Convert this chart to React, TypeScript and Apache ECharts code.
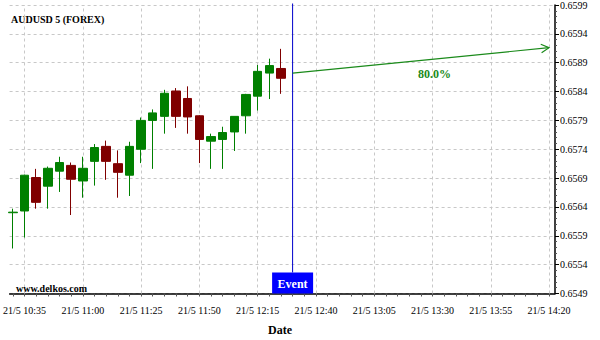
import React, { useEffect, useRef } from 'react';
import * as echarts from 'echarts';

// ---- data ----
const times = ['10:30','10:35','10:40','10:45','10:50','10:55','11:00','11:05','11:10','11:15','11:20','11:25','11:30','11:35','11:40','11:45','11:50','11:55','12:00','12:05','12:10','12:15','12:20','12:25'];
const opens  = [0.65630,0.65633,0.65691,0.65676,0.65702,0.65712,0.65685,0.65719,0.65745,0.65715,0.65695,0.65740,0.65790,0.65797,0.65841,0.65828,0.65798,0.65754,0.65757,0.65770,0.65798,0.65832,0.65872,0.65880];
const closes = [0.65631,0.65695,0.65648,0.65707,0.65717,0.65688,0.65707,0.65743,0.65719,0.65700,0.65745,0.65790,0.65803,0.65837,0.65797,0.65796,0.65757,0.65762,0.65769,0.65797,0.65835,0.65875,0.65885,0.65863];
const lows   = [0.65568,0.65587,0.65637,0.65637,0.65666,0.65626,0.65656,0.65677,0.65687,0.65656,0.65659,0.65716,0.65706,0.65767,0.65777,0.65767,0.65716,0.65706,0.65706,0.65737,0.65767,0.65807,0.65827,0.65836];
const highs  = [0.65637,0.65696,0.65706,0.65710,0.65727,0.65717,0.65727,0.65749,0.65755,0.65738,0.65753,0.65795,0.65809,0.65843,0.65846,0.65849,0.65799,0.65767,0.65779,0.65797,0.65836,0.65886,0.65897,0.65914];

const xLabelTimes = ['10:35','11:00','11:25','11:50','12:15','12:40','13:05','13:30','13:55','14:20'];
const xTickStart = '10:30';
const xTickEnd = '14:20';
const xMinTime = '10:28.6';
const xMaxTime = '14:22.56';
const yMin = 0.6549;
const yMax = 0.6599;
const yStep = 0.0005;

const eventTime = '12:30';
const eventLabel = 'Event';
const forecastStart = ['12:30', 0.65872] as const;
const forecastEnd = ['14:20', 0.65916] as const;
const forecastLabel = '80.0%';
const forecastLabelPos = ['13:30.9', 0.65870] as const;

const dateLabel = '21/5';
const titleText = 'AUDUSD 5 (FOREX)';
const watermark = 'www.delkos.com';
const xAxisTitle = 'Date';

const toMin = (s: string) => {
  const [h, m] = s.split(':');
  return Number(h) * 60 + Number(m);
};
const pad = (n: number) => (n < 10 ? '0' + n : '' + n);
const fmtTime = (v: number) => {
  const r = Math.round(v);
  return `${dateLabel} ${pad(Math.floor(r / 60))}:${pad(r % 60)}`;
};

const FONT = '"Liberation Serif", "Times New Roman", serif';
const GREEN = '#008000';
const RED = '#800000';

export default function App() {
  const ref = useRef<HTMLDivElement>(null);
  useEffect(() => {
    if (!ref.current) return;
    const chart = echarts.init(ref.current, undefined, { renderer: 'svg' });

    const candleData = times.map((t, i) => [toMin(t), opens[i], closes[i], lows[i], highs[i]]);
    const tickValues: number[] = [];
    for (let v = toMin(xTickStart); v <= toMin(xTickEnd); v += 5) tickValues.push(v);
    const labelValues = xLabelTimes.map(toMin);

    const option: any = {
      animation: false,
      backgroundColor: '#fff',
      textStyle: { fontFamily: FONT },
      grid: { left: 7, right: 45, top: 4.5, bottom: 46.5, containLabel: false },
      xAxis: {
        type: 'value',
        min: toMin(xMinTime),
        max: toMin(xMaxTime),
        axisLine: { show: true, onZero: false, lineStyle: { color: '#000', width: 1.5 } },
        axisTick: { show: true, customValues: tickValues, length: 3, lineStyle: { color: '#555' } },
        axisLabel: {
          customValues: labelValues,
          formatter: (v: number) => fmtTime(v),
          margin: 12,
          fontSize: 10,
          color: '#000',
          fontFamily: FONT,
        },
        splitLine: { show: false },
      },
      yAxis: {
        type: 'value',
        position: 'right',
        min: yMin,
        max: yMax,
        interval: yStep,
        scale: true,
        axisLine: { show: true, lineStyle: { color: '#000', width: 1.5 } },
        axisTick: { show: true, length: 4, lineStyle: { color: '#000' } },
        minorTick: { show: true, splitNumber: 5, length: 2, lineStyle: { color: '#555' } },
        axisLabel: {
          formatter: (v: number) => v.toFixed(4),
          margin: 5,
          fontSize: 10,
          color: '#000',
          fontFamily: FONT,
        },
        splitLine: { show: true, lineStyle: { color: '#c8c8c8', type: [3, 3], width: 1 } },
      },
      series: [
        {
          type: 'line',
          data: [],
          z: 1,
          silent: true,
          markLine: {
            z: 1,
            silent: true,
            symbol: ['none', 'none'],
            label: { show: false },
            lineStyle: { color: '#c8c8c8', type: [3, 3], width: 1 },
            emphasis: { disabled: true },
            data: labelValues.map((v) => ({ xAxis: v })),
          },
        },
        {
          type: 'candlestick',
          z: 3,
          dimensions: ['time', 'open', 'close', 'lowest', 'highest'],
          encode: { x: 'time', y: ['open', 'close', 'lowest', 'highest'] },
          data: candleData,
          barWidth: 9,
          itemStyle: {
            color: GREEN,
            color0: RED,
            borderColor: GREEN,
            borderColor0: RED,
            borderWidth: 1,
          },
        },
        {
          type: 'custom',
          z: 5,
          clip: false,
          silent: true,
          encode: { x: 0, y: 1 },
          data: [[toMin(eventTime), yMin]],
          renderItem: (params: any, api: any) => {
            const cs = params.coordSys;
            const ex = api.coord([toMin(eventTime), yMin])[0];
            const bottom = cs.y + cs.height;
            const boxH = 21;
            const boxW = 41;
            const s = api.coord([toMin(forecastStart[0]), forecastStart[1]]);
            const e = api.coord([toMin(forecastEnd[0]), forecastEnd[1]]);
            const ang = Math.atan2(e[1] - s[1], e[0] - s[0]);
            const hl = 9;
            const ha = 0.5;
            const a1 = [e[0] - hl * Math.cos(ang - ha), e[1] - hl * Math.sin(ang - ha)];
            const a2 = [e[0] - hl * Math.cos(ang + ha), e[1] - hl * Math.sin(ang + ha)];
            const lp = api.coord([toMin(forecastLabelPos[0]), forecastLabelPos[1]]);
            return {
              type: 'group',
              children: [
                {
                  type: 'line',
                  shape: { x1: ex, y1: cs.y - 1.5, x2: ex, y2: bottom - boxH },
                  style: { stroke: '#0000cc', lineWidth: 1 },
                },
                {
                  type: 'rect',
                  shape: { x: ex - boxW / 2, y: bottom - boxH, width: boxW, height: boxH },
                  style: { fill: '#0000ff' },
                },
                {
                  type: 'text',
                  style: {
                    text: eventLabel,
                    x: ex,
                    y: bottom - boxH / 2 + 0.5,
                    align: 'center',
                    verticalAlign: 'middle',
                    fill: '#fff',
                    font: `bold 12px ${FONT}`,
                  },
                },
                {
                  type: 'line',
                  shape: { x1: s[0], y1: s[1], x2: e[0], y2: e[1] },
                  style: { stroke: '#1a8a1a', lineWidth: 1.2 },
                },
                {
                  type: 'polyline',
                  shape: { points: [a1, e, a2] },
                  style: { stroke: '#1a8a1a', lineWidth: 1.2, fill: 'none' },
                },
                {
                  type: 'text',
                  style: {
                    text: forecastLabel,
                    x: lp[0],
                    y: lp[1],
                    align: 'center',
                    verticalAlign: 'middle',
                    fill: '#1a8a1a',
                    font: `bold 12px ${FONT}`,
                  },
                },
              ],
            };
          },
        },
      ],
      graphic: [
        {
          type: 'text',
          left: 11,
          top: 14,
          style: { text: titleText, fill: '#000', font: `bold 10px ${FONT}` },
        },
        {
          type: 'text',
          left: 16,
          top: 283.5,
          z: 10,
          style: { text: watermark, fill: '#000', font: `bold 10px ${FONT}` },
        },
        {
          type: 'text',
          left: 268,
          top: 324,
          style: { text: xAxisTitle, fill: '#000', font: `bold 12px ${FONT}` },
        },
      ],
    };
    chart.setOption(option);
    return () => chart.dispose();
  }, []);
  return <div ref={ref} style={{ width: 600, height: 340, position: 'absolute', left: 0, top: 0 }} />;
}
